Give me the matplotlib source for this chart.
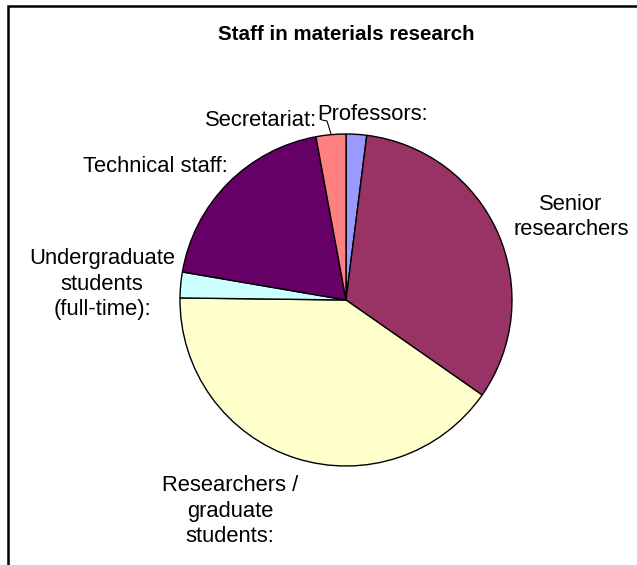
import matplotlib
matplotlib.use("Agg")
import matplotlib.pyplot as plt
from matplotlib.patches import Rectangle

plt.rcParams["font.family"] = ["Liberation Sans", "DejaVu Sans"]

W, H = 637, 565

# staff shares (percent), clockwise from 12 o'clock
labels = ["Professors:", "Senior\nresearchers", "Researchers /\ngraduate\nstudents:",
          "Undergraduate\nstudents\n(full-time):", "Technical staff:", "Secretariat:"]
shares = [2.0, 32.7, 40.5, 2.5, 19.4, 2.9]
colors = ["#9999FF", "#993366", "#FFFFCC", "#CCFFFF", "#660066", "#FF8080"]

# label anchor points in pixels (x right, y down)
label_xy = [(373, 114), (571, 217), (230, 511), (102, 284), (155, 167), (261, 121)]

fig = plt.figure(figsize=(W / 100, H / 100), dpi=100)
ax = fig.add_axes([0, 0, 1, 1])

cx, cy, r = 346, H - 300, 166
ax.pie(shares, colors=colors, startangle=90, counterclock=False,
       center=(cx, cy), radius=r, frame=True,
       wedgeprops=dict(edgecolor="black", linewidth=1.0))
ax.set_xlim(0, W)
ax.set_ylim(0, H)
ax.set_aspect("equal")
ax.axis("off")

for text, (x, y) in zip(labels, label_xy):
    ax.text(x, H - y, text, ha="center", va="center", fontsize=15.8,
            linespacing=1.3, color="black")

# leader line from the secretariat label to its slice
ax.plot([322, 327, 331], [H - 120, H - 121, H - 134], color="black", lw=0.8)

ax.text(cx, H - 34, "Staff in materials research", ha="center", va="center",
        fontsize=14.8, fontweight="bold")

# chart-area border (only top and left edges fall inside the image)
ax.add_patch(Rectangle((8, -20), W + 20, H - 6 + 20, fill=False,
                       edgecolor="black", lw=1.8, clip_on=False))

fig.savefig("out.png", dpi=100)
